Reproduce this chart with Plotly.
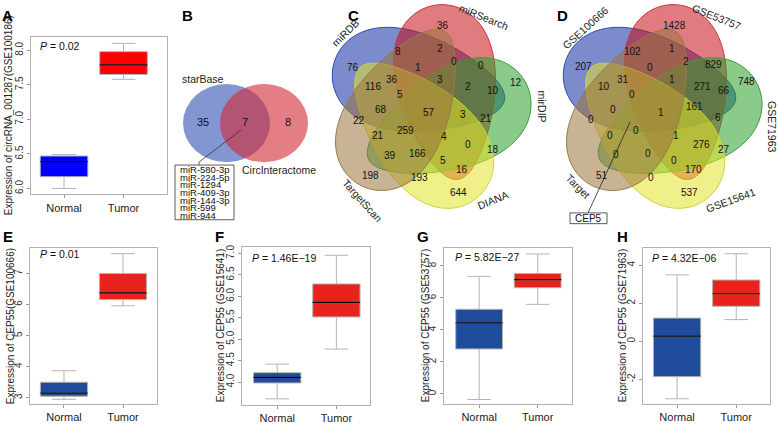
import numpy as np
import plotly.graph_objects as go

W, H = 778, 424
FONT = "Liberation Sans, Arial, sans-serif"

# ---------------- data ----------------
groups = ["Normal", "Tumor"]

A_low = [6.00, 7.58]; A_q1 = [6.17, 7.65]; A_med = [6.39, 7.79]; A_q3 = [6.47, 7.98]; A_up = [6.49, 8.10]
E_low = [2.95, 5.96]; E_q1 = [3.05, 6.16]; E_med = [3.15, 6.38]; E_q3 = [3.50, 7.00]; E_up = [3.87, 7.64]
F_low = [3.61, 4.77]; F_q1 = [3.98, 5.52]; F_med = [4.11, 5.86]; F_q3 = [4.22, 6.29]; F_up = [4.42, 6.96]
G_low = [-0.35, 5.60]; G_q1 = [2.81, 6.64]; G_med = [4.44, 7.14]; G_q3 = [5.29, 7.53]; G_up = [7.35, 8.75]
H_low = [-3.02, 1.14]; H_q1 = [-1.86, 1.84]; H_med = [0.27, 2.50]; H_q3 = [1.22, 3.22]; H_up = [3.49, 4.60]

A_p = "<i>P</i> = 0.02"
E_p = "<i>P</i> = 0.01"
F_p = "<i>P</i> = 1.46E\u221219"
G_p = "<i>P</i> = 5.82E\u221227"
H_p = "<i>P</i> = 4.32E\u221206"

A_ylab = "Expression of circRNA_001287(GSE100186)"
E_ylab = "Expression of CEP55(GSE100666)"
F_ylab = "Expression of CEP55 (GSE15641)"
G_ylab = "Expression of CEP55 (GSE53757)"
H_ylab = "Expression of CEP55 (GSE71963)"

A_ticks = [6.0, 6.5, 7.0, 7.5, 8.0]
E_ticks = [3, 4, 5, 6, 7]
F_ticks = [4.0, 4.5, 5.0, 5.5, 6.0, 6.5, 7.0]
G_ticks = [0, 2, 4, 6, 8]
H_ticks = [-2, 0, 2, 4]

# Venn B
B_sets = ["starBase", "CircInteractome"]
B_counts = [35, 7, 8]
B_mirs = ["miR-580-3p", "miR-224-5p", "miR-1294", "miR-409-3p", "miR-144-3p", "miR-599", "miR-944"]

# Venn C / D
C_sets = ["miRDB", "miRSearch", "mirDIP", "DIANA", "TargetScan"]
C_counts = [36, 76, 8, 2, 0, 0, 12, 1, 3, 2, 36, 116, 5, 10, 3, 21, 57, 68, 22, 259,
            21, 4, 0, 18, 39, 166, 5, 16, 198, 193, 644]
D_sets = ["GSE100666", "GSE53757", "GSE71963", "GSE15641", "Target"]
D_counts = [1428, 207, 102, 1, 2, 829, 748, 0, 1, 271, 31, 10, 0, 66, 161, 6, 1, 0, 0, 0,
            0, 1, 276, 27, 0, 0, 0, 170, 51, 0, 537]
D_gene = "CEP5"

# ---------------- layout helpers ----------------
def px(x):
    return x / W

def py(y):
    return 1 - y / H

def note(x, y, text, size=10, color="#111", angle=0, xanchor="center", bold=False):
    return dict(x=px(x), y=py(y), xref="paper", yref="paper", text=("<b>%s</b>" % text) if bold else text,
                showarrow=False, xanchor=xanchor, yanchor="middle", textangle=angle,
                font=dict(size=size, color=color))

# region label positions (pixels) for the 5-set diagrams
C_pos = [(443, 24), (353, 67), (398, 51), (440, 48), (454, 61), (481, 65), (516, 82), (418, 67),
         (440, 79), (468, 87), (392, 79), (373, 87), (400, 95), (493, 91), (463, 115), (486, 119),
         (429, 113), (381, 110), (359, 121), (405, 132), (378, 137), (444, 138), (468, 146),
         (493, 151), (390, 157), (417, 155), (443, 162), (462, 172), (370, 178), (419, 180), (458, 195)]
D_pos = [(674, 24), (583, 66), (632, 51), (672, 48), (686, 61), (713, 64), (746, 81), (650, 67),
         (672, 79), (702, 87), (623, 79), (604, 87), (632, 95), (724, 91), (694, 107), (718, 118),
         (661, 113), (613, 110), (591, 120), (636, 132), (610, 137), (676, 137), (701, 146),
         (724, 151), (616, 156), (648, 155), (674, 162), (693, 172), (602, 178), (651, 180), (689, 195)]

fig = go.Figure()
annotations = []
shapes = []

BOX_LINE = "#b4b4b4"
panels = [
    # letter, data, colors, frame(px: x0,x1,y0,y1), yrange, xrange, ticks, fmt, ptext, ppos, ylab, ylabx, letterpos
    ("A", (A_low, A_q1, A_med, A_q3, A_up), ("#0000FF", "#FF0000"), (31, 167, 36, 197), (5.915, 8.19),
     (-0.555, 1.73), A_ticks, "{:.1f}", A_p, (38, 45), A_ylab, 8.5, (8, 14)),
    ("E", (E_low, E_q1, E_med, E_q3, E_up), ("#1E4C9B", "#E8231E"), (30, 157, 252, 412), (2.79, 7.82),
     (-0.576, 1.576), E_ticks, "{:d}", E_p, (38, 258), E_ylab, 10, (8, 240)),
    ("F", (F_low, F_q1, F_med, F_q3, F_up), ("#1E4C9B", "#E8231E"), (242, 370, 251, 413), (3.46, 7.15),
     (-0.595, 1.568), F_ticks, "{:.1f}", F_p, (250, 262), F_ylab, 220, (219, 240)),
    ("G", (G_low, G_q1, G_med, G_q3, G_up), ("#1E4C9B", "#E8231E"), (444, 572, 252, 412), (-0.65, 9.12),
     (-0.60, 1.586), G_ticks, "{:d}", G_p, (453, 261), G_ylab, 425, (423, 240)),
    ("H", (H_low, H_q1, H_med, H_q3, H_up), ("#1E4C9B", "#E8231E"), (643, 770, 252, 412), (-3.31, 4.9),
     (-0.576, 1.571), H_ticks, "{:d}", H_p, (650, 262), H_ylab, 622, (622, 240)),
]

layout_axes = {}
for k, (let, dat, cols, fr, yr, xr, ticks, fmt, ptxt, ppos, ylab, ylx, lpos) in enumerate(panels):
    n = "" if k == 0 else str(k + 1)
    xa, ya = "x" + n, "y" + n
    low, q1, med, q3, up = dat
    for i in range(2):
        fig.add_trace(go.Box(x=[i], q1=[q1[i]], median=[med[i]], q3=[q3[i]],
                             lowerfence=[low[i]], upperfence=[up[i]], width=0.8,
                             fillcolor=cols[i], line=dict(color=BOX_LINE, width=1),
                             whiskerwidth=0.5, boxpoints=False, hoverinfo="skip",
                             xaxis=xa, yaxis=ya, showlegend=False))
        fig.add_trace(go.Scatter(x=[i - 0.4, i + 0.4], y=[med[i], med[i]], mode="lines",
                                 line=dict(color="black", width=1.2), hoverinfo="skip",
                                 xaxis=xa, yaxis=ya, showlegend=False))
    x0, x1, y0, y1 = fr
    ticktext = [str(int(t)) if fmt == "{:d}" else fmt.format(t) for t in ticks]
    layout_axes["xaxis" + n] = dict(domain=[px(x0), px(x1)], range=list(xr), anchor=ya,
                                    tickvals=[0, 1], ticktext=groups, ticks="outside", ticklen=3,
                                    tickcolor="#999", showline=True, mirror=True, linecolor="#b0b0b0",
                                    linewidth=1, showgrid=False, zeroline=False,
                                    tickfont=dict(size=11, color="#222"))
    layout_axes["yaxis" + n] = dict(domain=[py(y1), py(y0)], range=list(yr), anchor=xa,
                                    tickvals=ticks, ticktext=ticktext,
                                    ticks="outside", ticklen=3, tickcolor="#999", tickangle=-90,
                                    showline=True, mirror=True, linecolor="#b0b0b0", linewidth=1,
                                    showgrid=False, zeroline=False, tickfont=dict(size=10, color="#333"))
    annotations.append(note(ppos[0], ppos[1], ptxt, size=10.5, xanchor="left"))
    annotations.append(note(ylx, (y0 + y1) / 2, ylab, size=10, color="#222", angle=-90))
    annotations.append(note(lpos[0], lpos[1], let, size=15, color="black", bold=True))

# other panel letters
for let, (lx, ly) in [("B", (187, 14)), ("C", (353, 14)), ("D", (562, 14))]:
    annotations.append(note(lx, ly, let, size=15, color="black", bold=True))

# ---------------- Venn B ----------------
B_geom = [(183, 84, 270, 164), (220, 84, 308, 164)]
B_fill = ["rgba(50,80,180,0.6)", "rgba(210,40,50,0.6)"]
for (x0, y0, x1, y1), fc in zip(B_geom, B_fill):
    shapes.append(dict(type="circle", xref="paper", yref="paper", x0=px(x0), x1=px(x1),
                       y0=py(y1), y1=py(y0), fillcolor=fc, line=dict(width=0)))
for c, (tx, ty) in zip(B_counts, [(203, 123), (245, 123), (288, 123)]):
    annotations.append(note(tx, ty, str(c), size=11))
for s, (tx, ty) in zip(B_sets, [(203, 79), (279, 172)]):
    annotations.append(note(tx, ty, s, size=10.5, color="#222"))
shapes.append(dict(type="path", xref="paper", yref="paper",
                   path=f"M {px(241)},{py(131)} L {px(199)},{py(164)} L {px(199)},{py(167)}",
                   line=dict(color="#333", width=0.8)))
shapes.append(dict(type="rect", xref="paper", yref="paper", x0=px(175), x1=px(234), y0=py(223), y1=py(167),
                   line=dict(color="#333", width=0.8), fillcolor="white"))
for j, m in enumerate(B_mirs):
    annotations.append(note(177.5, 171.7 + 7.8 * j, m, size=9.5, xanchor="left"))

# ---------------- 5-set Venns ----------------
PA, PB, PK, DOFF, SX = 90, 50, 0.3, 26, 0.97
PHI0, PSI0 = -109, -169
V_fill = ["rgba(15,44,160,0.55)", "rgba(198,15,24,0.55)", "rgba(42,160,42,0.55)",
          "rgba(227,227,42,0.55)", "rgba(155,116,60,0.55)"]
V_line = ["#2B4BB0", "#C8323C", "#3C9B3C", "#D2D23C", "#9A7A48"]

def petal(cx, cy, i):
    phi = np.radians(PHI0 + 72 * i)
    psi = np.radians(PSI0 + 72 * i)
    mx, my = DOFF * np.cos(phi), DOFF * np.sin(phi)
    ex, ey = np.cos(psi), np.sin(psi)
    nx, ny = -ey, ex
    t = np.linspace(0, 2 * np.pi, 90, endpoint=False)
    u = np.cos(t)
    w = PB * np.sin(t) * (1 + PK * np.cos(t))
    xs = cx + SX * (mx + PA * u * ex + w * nx)
    ys = cy + (my + PA * u * ey + w * ny)
    return "M " + " L ".join(f"{px(x):.5f},{py(y):.5f}" for x, y in zip(xs, ys)) + " Z"

for (cx, cy) in [(427, 108), (658, 108)]:
    for i in range(5):
        shapes.append(dict(type="path", xref="paper", yref="paper", path=petal(cx, cy, i),
                           fillcolor=V_fill[i], line=dict(color=V_line[i], width=1)))

for counts, pos in [(C_counts, C_pos), (D_counts, D_pos)]:
    for c, (tx, ty) in zip(counts, pos):
        annotations.append(note(tx, ty, str(c), size=10))

C_lab = [(345, 32, -45), (484, 15, 22), (542, 107, 90), (493, 203, -22), (362, 203, 48)]
D_lab = [(585, 27, -42), (717, 15, 22), (772, 128, 90), (731, 203, -20), (578, 188, 45)]
for sets, labs in [(C_sets, C_lab), (D_sets, D_lab)]:
    for s, (tx, ty, ang) in zip(sets, labs):
        annotations.append(note(tx, ty, s, size=10.5, color="#222", angle=ang))

shapes.append(dict(type="line", xref="paper", yref="paper", x0=px(630), y0=py(123), x1=px(588), y1=py(216),
                   line=dict(color="#222", width=0.8)))
shapes.append(dict(type="rect", xref="paper", yref="paper", x0=px(570), x1=px(607), y0=py(227), y1=py(216),
                   line=dict(color="#333", width=0.8), fillcolor="white"))
annotations.append(note(588.5, 221.5, D_gene, size=10))

fig.update_layout(width=W, height=H, margin=dict(l=0, r=0, t=0, b=0), paper_bgcolor="white",
                  plot_bgcolor="white", showlegend=False, font=dict(family=FONT),
                  annotations=annotations, shapes=shapes, **layout_axes)
fig.write_html("out.html", config={"displayModeBar": False},
               post_script="document.body.style.margin='0px';")
